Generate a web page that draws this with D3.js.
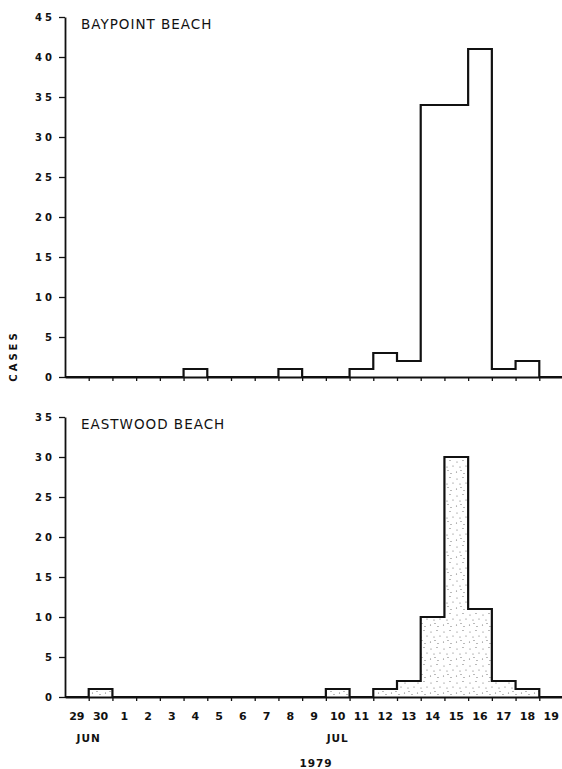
<!DOCTYPE html>
<html>
<head>
<meta charset="utf-8">
<script src="https://cdn.jsdelivr.net/npm/d3@7"></script>
<style>
  body { margin: 0; background: #fff; }
  svg { display: block; font-family: "DejaVu Sans", sans-serif; }
</style>
</head>
<body>
<svg class="main-svg" width="562" height="769"></svg>
<script>
// one bin per day, 29 Jun .. 19 Jul 1979
const days = ["29", "30", "1", "2", "3", "4", "5", "6", "7", "8", "9",
  "10", "11", "12", "13", "14", "15", "16", "17", "18", "19"];

const baypoint = [0, 0, 0, 0, 0, 1, 0, 0, 0, 1, 0, 0, 1, 3, 2, 34, 34, 41, 1, 2, 0];
const eastwood = [0, 1, 0, 0, 0, 0, 0, 0, 0, 0, 0, 1, 0, 1, 2, 10, 30, 11, 2, 1, 0];

const baypointTicks = [0, 5, 10, 15, 20, 25, 30, 35, 40, 45];
const eastwoodTicks = [0, 5, 10, 15, 20, 25, 30, 35];

const months = [{label: "JUN", at: 1}, {label: "JUL", at: 11.5}];
const year = "1979";

const svg = d3.select(".main-svg");

// stipple for the lower panel
const defs = svg.append("defs");
const pat = defs.append("pattern")
  .attr("id", "stipple")
  .attr("patternUnits", "userSpaceOnUse")
  .attr("width", 13)
  .attr("height", 17);
[[2, 3], [8, 1.5], [5, 8], [11, 7], [1.5, 13], [9, 14.5], [6, 11.5]].forEach(([cx, cy]) => {
  pat.append("circle").attr("cx", cx).attr("cy", cy).attr("r", 0.6).attr("fill", "#666");
});

const x = d3.scaleLinear()
  .domain([0, days.length])
  .range([65, 563]);

function panel(values, ticks, top, bottom, title, filled) {
  const y = d3.scaleLinear()
    .domain([0, d3.max(ticks)])
    .range([bottom, top]);

  const g = svg.append("g");

  // step outline of the histogram
  const pts = values.map((v, i) => [i, v]);
  pts.push([values.length, values[values.length - 1]]);

  const area = d3.area()
    .x(d => x(d[0]))
    .y0(y(0))
    .y1(d => y(d[1]))
    .curve(d3.curveStepAfter);

  const line = d3.line()
    .x(d => x(d[0]))
    .y(d => y(d[1]))
    .curve(d3.curveStepAfter);

  g.append("path")
    .datum(pts)
    .attr("d", area)
    .attr("fill", filled ? "url(#stipple)" : "none");

  g.append("path")
    .datum(pts)
    .attr("d", line)
    .attr("fill", "none")
    .attr("stroke", "#111")
    .attr("stroke-width", 2.2)
    .attr("stroke-linejoin", "miter");

  const yAxis = g.append("g")
    .attr("transform", `translate(${x(0)},0)`)
    .call(d3.axisLeft(y).tickValues(ticks).tickSize(6).tickSizeOuter(0).tickPadding(4));
  yAxis.select(".domain").attr("stroke", "#111").attr("stroke-width", 1.8);
  yAxis.selectAll(".tick line").attr("stroke", "#111").attr("stroke-width", 1.3);
  yAxis.selectAll(".tick text")
    .attr("fill", "#111")
    .attr("font-size", 10)
    .attr("font-weight", "bold")
    .attr("letter-spacing", 3)
    .attr("font-family", "DejaVu Sans, sans-serif");

  const xAxis = g.append("g")
    .attr("transform", `translate(0,${y(0)})`)
    .call(d3.axisBottom(x)
      .tickValues(d3.range(1, days.length + 1))
      .tickSize(4)
      .tickSizeOuter(0)
      .tickFormat(""));
  xAxis.select(".domain").attr("stroke", "#111").attr("stroke-width", 2);
  xAxis.selectAll(".tick line").attr("stroke", "#111").attr("stroke-width", 1.3);

  g.append("text")
    .attr("x", 81)
    .attr("y", top + 12)
    .attr("font-size", 13.5)
    .attr("letter-spacing", 1)
    .attr("fill", "#111")
    .text(title);

  return y;
}

panel(baypoint, baypointTicks, 17, 377, "BAYPOINT BEACH", false);
panel(eastwood, eastwoodTicks, 417, 697, "EASTWOOD BEACH", true);

// day labels under the lower panel
svg.append("g")
  .selectAll("text")
  .data(days)
  .join("text")
    .attr("x", (d, i) => x(i + 0.5))
    .attr("y", 720)
    .attr("text-anchor", "middle")
    .attr("font-size", 11)
    .attr("font-weight", "bold")
    .attr("fill", "#111")
    .text(d => d);

svg.append("g")
  .selectAll("text")
  .data(months)
  .join("text")
    .attr("x", d => x(d.at))
    .attr("y", 742)
    .attr("text-anchor", "middle")
    .attr("font-size", 10.5)
    .attr("font-weight", "bold")
    .attr("letter-spacing", 1)
    .attr("fill", "#111")
    .text(d => d.label);

svg.append("text")
  .attr("x", 316)
  .attr("y", 767)
  .attr("text-anchor", "middle")
  .attr("font-size", 10.5)
  .attr("font-weight", "bold")
  .attr("letter-spacing", 1)
  .attr("fill", "#111")
  .text(year);

svg.append("text")
  .attr("transform", "translate(17,356) rotate(-90)")
  .attr("text-anchor", "middle")
  .attr("font-size", 10)
  .attr("font-weight", "bold")
  .attr("letter-spacing", 3)
  .attr("fill", "#111")
  .text("CASES");
</script>
</body>
</html>
